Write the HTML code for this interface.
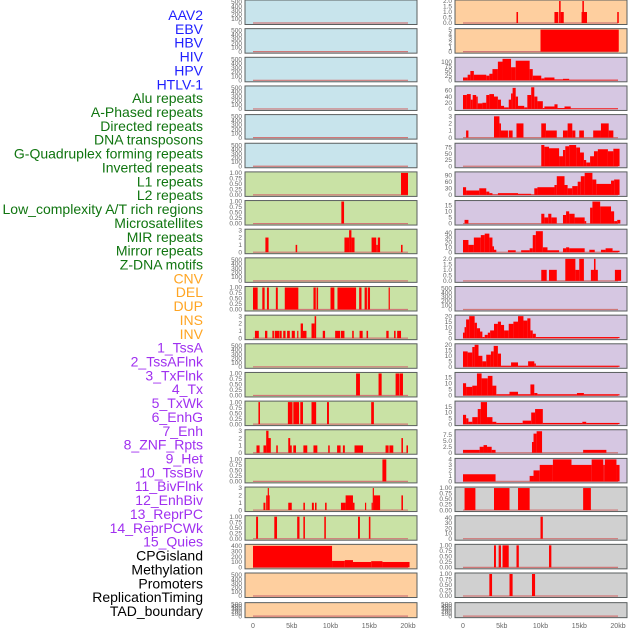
<!DOCTYPE html>
<html><head><meta charset="utf-8">
<style>
body{margin:0;background:#fff;width:630px;height:630px;overflow:hidden;font-family:"Liberation Sans",sans-serif}
svg{position:absolute;left:0;top:0}
</style></head>
<body>
<svg id="chart" width="630" height="630" xmlns="http://www.w3.org/2000/svg"></svg>
<script>
// ---- labels ----
const labelNames = ["AAV2","EBV","HBV","HIV","HPV","HTLV-1","Alu repeats","A-Phased repeats","Directed repeats","DNA transposons","G-Quadruplex forming repeats","Inverted repeats","L1 repeats","L2 repeats","Low_complexity A/T rich regions","Microsatellites","MIR repeats","Mirror repeats","Z-DNA motifs","CNV","DEL","DUP","INS","INV","1_TssA","2_TssAFlnk","3_TxFlnk","4_Tx","5_TxWk","6_EnhG","7_Enh","8_ZNF_Rpts","9_Het","10_TssBiv","11_BivFlnk","12_EnhBiv","13_ReprPC","14_ReprPCWk","15_Quies","CPGisland","Methylation","Promoters","ReplicationTiming","TAD_boundary"];
const labelGroups = [6,13,5,15,5];
const groupColors = ["#1f1fff","#107510","#ffa523","#a030f0","#000000"];
const xTickLabels = ["0","5kb","10kb","15kb","20kb"];
const xTickValues = [0,5,10,15,20];

// ---- left column data: [startKb, endKb, value] ----
const L0=[],L1=[],L2=[],L3=[],L4=[],L5=[];
const L6=[[19.1,20,1]];
const L7=[[11.4,11.75,1]];
const L8=[[1.6,2.0,2],[5.5,5.7,1],[11.8,12.4,2],[12.4,12.7,3],[12.7,13.1,2],[15.3,15.9,2],[15.9,16.1,1],[16.1,16.4,2],[19.1,19.3,1]];
const L9=[];
const L10=[[0,0.6,1],[1.2,1.5,1],[1.8,2.05,1],[2.95,3.2,1],[4.1,5.85,1],[7.8,8.1,1],[8.2,8.4,1],[10,10.5,1],[10.9,13.3,1],[13.7,14.0,1],[14.4,14.7,1],[14.8,15.1,1],[17.5,17.65,1]];
const L11=[[0.25,0.75,1],[1.55,1.85,1],[2.5,2.7,1],[2.8,3.4,1],[3.45,3.7,1],[3.9,4.2,1],[4.4,4.75,1],[5.0,5.4,1],[5.7,5.85,1],[6.15,6.45,2],[6.45,6.9,1],[7.55,7.95,2],[7.95,8.15,3],[9.0,9.3,1],[10.6,11.25,1],[11.35,11.8,1],[12.8,13.0,1],[13.75,14.15,1],[14.65,14.85,1],[17.2,17.5,1],[18.2,18.4,1],[18.6,19.1,1]];
const L12=[];
const L13=[[13.3,13.8,1],[16.2,16.6,1],[18.4,18.85,1],[18.9,19.35,1]];
const L14=[[0.7,0.9,1],[4.5,5.1,1],[5.2,5.95,1],[6.1,6.45,1],[7.55,8.15,1],[9.55,9.8,1],[15.25,15.6,1]];
const L15=[[0.45,0.85,1],[1.35,1.7,1],[1.7,2.0,3],[2.0,2.3,2],[3.0,3.2,1],[4.55,4.8,2],[4.7,5.0,1],[5.2,5.55,1],[6.5,7.0,1],[7.8,8.3,1],[9.7,9.9,1],[10.85,11.3,1],[11.6,11.85,1],[13.1,14.2,1],[17.1,17.5,1],[17.6,18.1,1],[19.15,19.35,2],[19.8,20.0,1]];
const L16=[[16.7,17.2,1]];
const L17=[[1.35,1.6,1],[1.7,1.9,2],[1.9,2.0,3],[2.0,2.15,2],[4.55,5.0,1],[6.5,6.7,1],[7.6,7.85,1],[8.0,8.2,1],[9.3,9.5,1],[11.35,11.95,1],[11.95,12.9,2],[12.9,13.1,1],[14.45,14.6,1],[15.3,15.45,1],[15.45,15.6,3],[15.6,16.4,2],[19.15,19.35,2]];
const L18=[[0.4,0.65,1],[2.75,3.1,1],[5.7,6.0,1],[6.5,6.7,1],[9.2,9.4,1],[13.55,13.8,1],[14.95,15.15,1]];
const L19=[[0,10.2,400],[10.2,11.85,120],[11.85,12.9,135],[12.9,15.25,100],[15.25,16.7,115],[16.7,20.2,100]];
const L20=[],L21=[];

// ---- right column data ----
const R0=[[6.9,7.1,1],[11.8,12.3,1],[12.4,12.6,2],[12.6,13.0,1],[15.3,16.0,1],[15.4,15.6,2],[19.9,20.1,1]];
const R1=[[10,20.1,5]];
const R2=[[0,0.6,15],[0.6,0.95,30],[0.95,1.4,50],[1.4,3,30],[3,3.4,25],[3.4,3.8,35],[3.8,4.5,60],[4.5,5.1,100],[5.1,6.2,115],[6.2,6.8,70],[6.8,8.6,105],[8.6,9,60],[9,10.1,25],[10.1,10.5,10],[10.5,11.8,15],[11.8,12.9,5],[12.9,13.7,8],[13.7,20,3]];
const R3=[[0,0.5,45],[0.5,1.0,48],[1.0,1.25,30],[1.25,1.7,45],[1.7,1.9,40],[1.9,2.5,18],[2.5,3.0,20],[3.0,3.4,45],[3.4,4.0,48],[4.0,4.5,40],[4.5,4.9,30],[4.9,5.3,10],[5.3,5.9,5],[5.9,6.2,30],[6.2,6.4,50],[6.4,6.8,68],[6.8,7.1,40],[7.1,7.9,10],[7.9,8.3,5],[8.3,8.8,45],[8.8,9.2,70],[9.2,9.6,40],[9.6,10.3,25],[10.3,10.5,3],[10.5,11.8,8],[11.8,12.2,15],[12.2,13.1,3],[13.1,13.9,8],[13.9,20,2]];
const R4=[[0.4,0.7,1],[4.0,4.7,3],[4.7,4.9,2],[4.9,5.8,1],[5.9,6.4,1],[6.9,7.8,2],[10.1,10.7,2],[10.7,12.1,1],[12.9,13.5,1],[13.5,14.1,2],[14.1,14.5,1],[15.0,15.6,1],[16.8,17.8,1],[17.8,18.8,2],[18.8,19.4,1]];
const R5=[[10.1,10.5,85],[10.5,11.1,78],[11.1,12.4,72],[12.4,12.9,40],[12.9,13.2,65],[13.2,13.7,80],[13.7,14.6,85],[14.6,15.1,75],[15.1,15.6,55],[15.6,15.9,25],[15.9,16.4,15],[16.4,16.9,40],[16.9,17.4,60],[17.4,18.7,68],[18.7,19.4,60],[19.4,20.2,70]];
const R6=[[0,0.4,35],[0.4,2.1,20],[2.1,3.0,30],[3.0,3.4,15],[3.4,3.8,8],[3.8,4.5,2],[4.5,7.1,8],[7.1,8.8,5],[8.8,9.2,2],[9.2,9.6,30],[9.6,11.8,35],[11.8,12.1,45],[12.1,13.1,85],[13.1,13.5,45],[13.5,14.1,30],[14.1,14.8,40],[14.8,15.2,60],[15.2,15.7,85],[15.7,16.7,100],[16.7,17.2,70],[17.2,19.1,50],[19.1,19.5,65],[19.5,20.2,70]];
const R7=[[0.2,0.7,3],[10.1,10.5,8],[10.5,11.0,5],[11.0,11.4,8],[11.4,12.1,5],[12.9,13.3,7],[13.3,13.7,10],[13.7,14.4,8],[14.4,15.7,5],[15.7,15.9,2],[16.4,16.7,13],[16.7,17.7,18],[17.7,19.1,14],[19.1,19.5,10],[19.5,19.9,2],[19.9,20.3,3]];
const R8=[[0,0.7,25],[0.7,1.4,15],[1.4,2.3,30],[2.3,2.8,35],[2.8,3.4,38],[3.4,3.8,30],[3.8,4.0,12],[4.0,4.3,5],[5.8,6.8,4],[7.5,8.6,4],[8.6,9.0,8],[9.0,9.4,35],[9.4,10.3,43],[10.3,10.9,10],[10.9,12.4,4],[12.9,13.3,8],[13.3,13.7,10],[13.7,15.7,8],[16.3,17.0,5],[17.8,18.4,5],[18.4,19.3,8],[19.3,20.2,3]];
const R9=[[10.1,10.8,1],[11.1,12.1,1],[13.2,14.5,2],[14.5,15.0,1],[15.0,15.6,2],[16.5,16.9,1],[16.9,17.1,2],[17.1,17.4,1],[19.6,20.4,1]];
const R10=[];
const R11=[[0,0.2,5],[0.2,0.4,10],[0.4,0.8,17],[0.8,1.5,20],[1.5,1.8,14],[1.8,2.2,9],[2.2,2.5,6],[2.5,2.8,1],[2.8,3.2,3],[3.2,3.5,5],[3.5,4.0,7],[4.0,4.5,13],[4.5,4.9,15],[4.9,5.3,12],[5.3,5.9,7],[5.9,6.5,13],[6.5,7.1,15],[7.1,7.8,20],[7.8,8.3,16],[8.3,8.7,18],[8.7,9.0,7],[9.0,9.4,4],[9.4,20.2,1]];
const R12=[[0,0.6,14],[0.6,1.2,13],[1.2,1.5,18],[1.5,2.0,20],[2.0,2.5,10],[2.5,3.0,5],[3.0,3.6,11],[3.6,3.96,14],[3.96,4.5,19],[4.5,4.9,12],[4.9,6.2,1],[6.2,7.1,4],[7.1,8.4,1],[8.4,9.2,5],[9.2,9.4,3],[9.4,20.2,1]];
const R13=[[0,0.4,10],[0.4,1.2,7],[1.2,1.8,8],[1.8,2.4,18],[2.4,3.2,14],[3.2,3.8,16],[3.8,4.3,8],[4.3,6.0,1],[6.0,7.1,3],[7.1,8.7,1],[8.7,9.2,9],[9.2,9.6,2],[9.6,14.7,1],[14.7,15.6,2],[15.6,20.2,1]];
const R14=[[0,0.4,8],[0.4,0.7,5],[0.7,1.2,2],[1.2,1.9,6],[1.9,2.3,13],[2.3,3.1,19],[3.1,3.8,6],[3.8,4.3,2],[4.3,7.7,1],[7.7,8.8,3],[8.8,9.3,10],[9.3,10.3,13],[10.3,15.4,1],[15.4,15.9,2],[15.9,20.2,1]];
const R15=[[0.0,2.15,1.2],[2.15,2.65,2.5],[2.65,3.1,3.2],[3.1,3.7,2.5],[3.7,4.2,1.2],[8.9,9.1,4.5],[9.1,9.5,8],[9.5,10.2,9],[15.5,18.5,1.2]];
const R16=[[0,4.2,1.3],[8.6,9.1,1],[9.1,9.9,2],[9.9,11.6,3],[11.6,14.0,4],[14.0,16.6,3],[16.6,18.1,4],[18.1,18.3,3],[18.3,19.8,4],[19.8,20.2,3]];
const R17=[[0.2,1.6,1],[4.0,6.0,1],[7.1,8.6,1],[15.5,16.5,1]];
const R18=[[10.0,10.3,42]];
const R19=[[4.0,4.25,1],[4.6,4.9,1],[5.1,5.9,1],[6.9,7.2,1],[11.1,11.4,1]];
const R20=[[3.4,3.75,1],[6.0,6.4,1],[8.9,9.3,1]];
const R21=[];

// ---- tick label arrays ----
const T500=["0","100","200","300","400","500"];
const T1=["0.00","0.25","0.50","0.75","1.00"];
const T3=["0","1","2","3"];
const T400=["0","100","200","300","400"];

const C={blue:"#c8e4ec",green:"#c9e2a5",orange:"#fecf9f",purple:"#d6c7e2",grey:"#d0d0d0"};
const leftPanels=[
 [L0,T500,520,"blue"],[L1,T500,520,"blue"],[L2,T500,520,"blue"],[L3,T500,520,"blue"],[L4,T500,520,"blue"],[L5,T500,520,"blue"],
 [L6,T1,1,"green"],[L7,T1,1,"green"],[L8,T3,3,"green"],[L9,T500,520,"green"],[L10,T1,1,"green"],[L11,T3,3,"green"],[L12,T500,520,"green"],
 [L13,T1,1,"green"],[L14,T1,1,"green"],[L15,T3,3,"green"],[L16,T1,1,"green"],[L17,T3,3,"green"],[L18,T1,1,"green"],
 [L19,T400,410,"orange"],[L20,T500,520,"orange"],[L21,T500,520,"orange"]];
const rightPanels=[
 [R0,["0.0","0.5","1.0","1.5","2.0"],2,"orange"],[R1,["0","1","2","3","4","5"],5,"orange"],
 [R2,["0","25","50","75","100"],118,"purple"],[R3,["0","20","40","60"],71,"purple"],[R4,T3,3.1,"purple"],
 [R5,["0","25","50","75"],88,"purple"],[R6,["0","30","60","90"],100,"purple"],[R7,["0","5","10","15"],18,"purple"],
 [R8,["0","10","20","30","40"],45,"purple"],[R9,["0.0","0.5","1.0","1.5","2.0"],2,"purple"],[R10,T500,520,"purple"],
 [R11,["0","5","10","15","20"],20,"purple"],[R12,["0","5","10","15","20"],20,"purple"],[R13,["0","5","10","15"],18,"purple"],
 [R14,["0","5","10","15"],19,"purple"],[R15,["0","2.5","5.0","7.5"],9.2,"purple"],[R16,["0","1","2","3","4"],4,"purple"],
 [R17,T1,1,"grey"],[R18,["0","10","20","30","40"],42,"grey"],[R19,T1,1,"grey"],[R20,T1,1,"grey"],[R21,T500,520,"grey"]];

const NS="http://www.w3.org/2000/svg";
const svg=document.getElementById("chart");
function mk(tag,attrs,parent){const e=document.createElementNS(NS,tag);for(const k in attrs)e.setAttribute(k,attrs[k]);(parent||svg).appendChild(e);return e;}

// left labels
let li=0;
labelGroups.forEach((n,g)=>{for(let j=0;j<n;j++){
  const t=mk("text",{x:203,y:(20+li*13.86).toFixed(1),"text-anchor":"end","font-size":"14",fill:groupColors[g]});
  t.textContent=labelNames[li];
  
  
  li++;}});

function rowTop(i){return i*28.65;}
function rowH(i){return i===21?15:24.5;}

function drawPanel(p,i,px,side){
  const [data,ticks,ymax,bg]=p;
  const top=rowTop(i)+(i===21?1:0), h=rowH(i), w=172;
  const x0=px+8, kbW=7.75;
  const xs=kb=>x0+kb*kbW;
  const y0=top+h-1.5, yt=top+1;
  const ys=v=>y0-(v/ymax)*(y0-yt);
  const g=mk("g",{});
  
  
  const r=mk("rect",{x:px,y:top,width:w,height:h,fill:C[bg],stroke:"#5a5f5f","stroke-width":"1"},g);
  
  
  const bl=mk("line",{x1:xs(0),x2:xs(20),y1:y0,y2:y0,stroke:"#d07878","stroke-width":"1.2"},g);
  
  
  data.forEach(d=>{
    const b=mk("rect",{x:xs(d[0]).toFixed(2),y:ys(d[2]).toFixed(2),width:Math.max(1.2,(xs(d[1])-xs(d[0]))).toFixed(2),height:(y0-ys(d[2])).toFixed(2),fill:"#ff0000"},g);
    
    
  });
  ticks.forEach(tl=>{
    const v=parseFloat(tl);
    const t=mk("text",{x:px-3,y:(ys(v)+2.2).toFixed(1),"text-anchor":"end","font-size":"6.5",fill:"#666"},g);
    t.textContent=tl;
    
    
  });
}
leftPanels.forEach((p,i)=>drawPanel(p,i,245,"left"));
rightPanels.forEach((p,i)=>drawPanel(p,i,455,"right"));

// x axes
[245,455].forEach((px,k)=>{
  xTickValues.forEach((v,j)=>{
    const t=mk("text",{x:(px+8+v*7.75).toFixed(1),y:628,"text-anchor":"middle","font-size":"7",fill:"#666"});
    t.textContent=xTickLabels[j];
    
    
  });
});
</script>
</body></html>
